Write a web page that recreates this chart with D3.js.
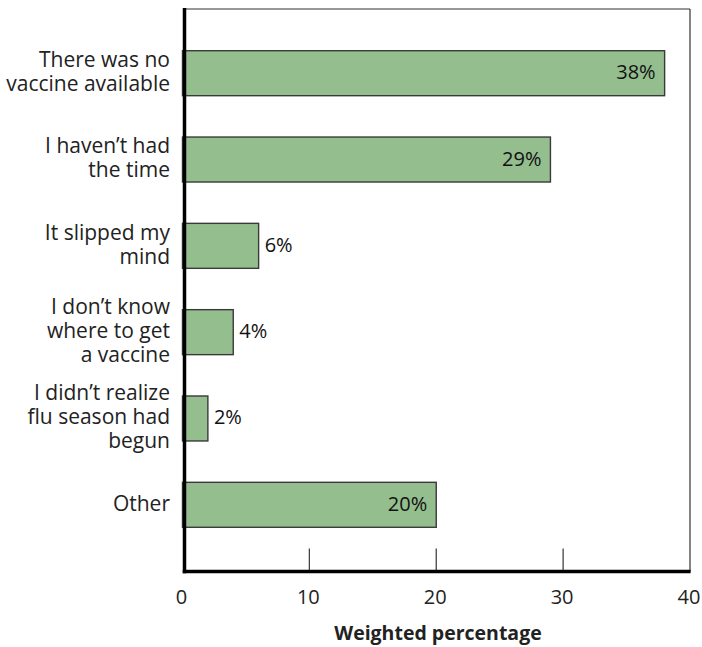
<!DOCTYPE html>
<html>
<head>
<meta charset="utf-8">
<script src="https://cdn.jsdelivr.net/npm/d3@7"></script>
<style>
  html, body { margin: 0; padding: 0; background: #fff; }
  svg { display: block; font-family: "Open Sans", "Noto Sans", sans-serif; }
</style>
</head>
<body>
<svg id="chart" width="702" height="647"></svg>
<script>
// Reasons for not getting a flu vaccine (weighted percentage)
const reasons = [
  ["There was no", "vaccine available"],
  ["I haven\u2019t had", "the time"],
  ["It slipped my", "mind"],
  ["I don\u2019t know", "where to get", "a vaccine"],
  ["I didn\u2019t realize", "flu season had", "begun"],
  ["Other"]
];
const percents = [38, 29, 6, 4, 2, 20];
const xTicks = [0, 10, 20, 30, 40];
const xTitle = "Weighted percentage";

const svg = d3.select("#chart");
const plotLeft = 182.5, plotRight = 690, plotTop = 9, plotBottom = 571.5;
const axisX = 184.5;

const ids = reasons.map((_, i) => i);
const x = d3.scaleLinear().domain([0, 40]).range([plotLeft, plotRight]);
const y = d3.scaleBand().domain(ids).range([30, 548]).paddingInner(0.479).paddingOuter(0.24);

// Frame: thin top and right borders
svg.append("line").attr("x1", axisX).attr("x2", plotRight).attr("y1", plotTop).attr("y2", plotTop)
  .attr("stroke", "#333").attr("stroke-width", 1.2);
svg.append("line").attr("x1", plotRight).attr("x2", plotRight).attr("y1", plotTop).attr("y2", plotBottom)
  .attr("stroke", "#333").attr("stroke-width", 1.2);

// Inner ticks rising from the bottom axis
svg.append("g").selectAll("line").data(xTicks.filter(t => t > 0 && t < 40)).join("line")
  .attr("x1", d => x(d)).attr("x2", d => x(d))
  .attr("y1", plotBottom).attr("y2", plotBottom - 23)
  .attr("stroke", "#444").attr("stroke-width", 1.3);

// Bars
svg.append("g").selectAll("rect").data(ids).join("rect")
  .attr("x", x(0))
  .attr("y", i => y(i))
  .attr("width", i => x(percents[i]) - x(0))
  .attr("height", y.bandwidth())
  .attr("fill", "#94be8e")
  .attr("stroke", "#3a3a3a")
  .attr("stroke-width", 1.4);

// Value labels: inside for long bars, outside for short ones
svg.append("g").selectAll("text").data(ids).join("text")
  .attr("x", i => percents[i] >= 10 ? x(percents[i]) - 9 : x(percents[i]) + 6)
  .attr("y", i => y(i) + y.bandwidth() / 2)
  .attr("dy", "0.3em")
  .attr("text-anchor", i => percents[i] >= 10 ? "end" : "start")
  .attr("font-size", 20)
  .attr("fill", "#111")
  .text(i => percents[i] + "%");

// Category labels, multi-line, right aligned
const lineH = 24;
const cats = svg.append("g").selectAll("text").data(ids).join("text")
  .attr("text-anchor", "end")
  .attr("font-size", 21)
  .attr("fill", "#222");
cats.each(function(i) {
  const lines = reasons[i];
  const cy = y(i) + y.bandwidth() / 2;
  const y0 = cy - (lines.length - 1) * lineH / 2;
  d3.select(this).selectAll("tspan").data(lines).join("tspan")
    .attr("x", 170)
    .attr("y", (d, k) => y0 + k * lineH)
    .attr("dy", "0.28em")
    .text(d => d);
});

// Thick left and bottom axis lines
svg.append("line").attr("x1", axisX).attr("x2", axisX).attr("y1", plotTop - 1).attr("y2", plotBottom + 1.75)
  .attr("stroke", "#000").attr("stroke-width", 3.5);
svg.append("line").attr("x1", axisX - 1.75).attr("x2", plotRight + 0.6).attr("y1", plotBottom).attr("y2", plotBottom)
  .attr("stroke", "#000").attr("stroke-width", 3.5);

// Tick labels
svg.append("g").selectAll("text").data(xTicks).join("text")
  .attr("x", d => x(d) - 1)
  .attr("y", 604)
  .attr("text-anchor", "middle")
  .attr("font-size", 20)
  .attr("fill", "#222")
  .text(d => d);

// Axis title
svg.append("text")
  .attr("x", 438)
  .attr("y", 640)
  .attr("text-anchor", "middle")
  .attr("font-size", 19.5)
  .attr("font-weight", "bold")
  .attr("fill", "#222")
  .text(xTitle);
</script>
</body>
</html>
